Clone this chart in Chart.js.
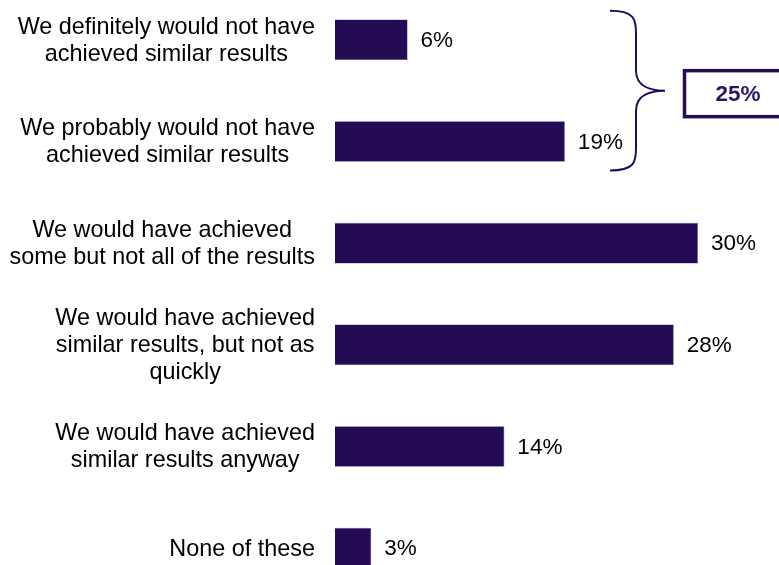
<!DOCTYPE html>
<html>
<head>
<meta charset="utf-8">
<script src="https://cdn.jsdelivr.net/npm/chart.js@4/dist/chart.umd.min.js"></script>
<style>
  html, body { margin: 0; padding: 0; background: #fff; overflow: hidden; }
  body { width: 779px; height: 565px; position: relative; }
  #wrap { position: absolute; left: 0; top: -11px; width: 779px; height: 610px; }
</style>
</head>
<body>
<div id="wrap"><canvas id="chart"></canvas></div>
<script>
const categories = [
  ['We definitely would not have', 'achieved similar results'],
  ['We probably would not have', 'achieved similar results'],
  ['We would have achieved', 'some but not all of the results'],
  ['We would have achieved', 'similar results, but not as', 'quickly'],
  ['We would have achieved', 'similar results anyway'],
  ['None of these']
];
const values = [6, 19, 30, 28, 14, 3];
const combinedLabel = '25%';   // first two answers together

const PURPLE = '#240c55';
const FONT = '"Liberation Sans", Arial, sans-serif';

const labelsPlugin = {
  id: 'labels',
  afterDraw(chart) {
    const ctx = chart.ctx;
    const y = chart.scales.y;
    const meta = chart.getDatasetMeta(0);
    ctx.save();

    // category labels: block right-aligned, lines centred inside it
    ctx.font = '23.4px ' + FONT;
    ctx.fillStyle = '#000';
    ctx.textBaseline = 'middle';
    ctx.textAlign = 'center';
    const right = 315, lh = 27;
    categories.forEach((lines, i) => {
      const cy = y.getPixelForValue(i);
      const w = Math.max(...lines.map(l => ctx.measureText(l).width));
      const cx = right - w / 2;
      const y0 = cy - (lines.length - 1) * lh / 2;
      lines.forEach((l, k) => ctx.fillText(l, cx, y0 + k * lh + 1));
    });

    // value labels at bar ends
    ctx.font = '22.5px ' + FONT;
    ctx.textAlign = 'left';
    meta.data.forEach((bar, i) => {
      ctx.fillText(values[i] + '%', bar.x + 13, bar.y + 1);
    });

    // brace over the two "would not" bars
    const b0 = meta.data[0], b1 = meta.data[1];
    const top = b0.y - 29, bot = b1.y + 29, mid = (b0.y + b1.y) / 2;
    const xl = 610, xv = 636, xt = 665;
    ctx.strokeStyle = PURPLE;
    ctx.lineWidth = 2;
    ctx.beginPath();
    ctx.moveTo(xl, top);
    ctx.bezierCurveTo(xv - 2, top, xv, top + 8, xv, top + 22);
    ctx.lineTo(xv, mid - 20);
    ctx.bezierCurveTo(xv, mid - 4, xt - 14, mid, xt, mid);
    ctx.bezierCurveTo(xt - 14, mid, xv, mid + 4, xv, mid + 20);
    ctx.lineTo(xv, bot - 22);
    ctx.bezierCurveTo(xv, bot - 8, xv - 2, bot, xl, bot);
    ctx.stroke();

    // boxed total
    ctx.lineWidth = 3.5;
    ctx.strokeRect(684.5, mid - 20, 110, 46);
    ctx.font = 'bold 22.5px ' + FONT;
    ctx.fillStyle = '#2a1464';
    ctx.textAlign = 'center';
    ctx.fillText(combinedLabel, 738, mid + 4);
    ctx.restore();
  }
};

new Chart(document.getElementById('chart'), {
  type: 'bar',
  data: {
    labels: categories,
    datasets: [{
      data: values,
      backgroundColor: PURPLE,
      borderColor: '#5a4a85',
      borderWidth: 0.6,
      barPercentage: 0.4,
      categoryPercentage: 1
    }]
  },
  options: {
    indexAxis: 'y',
    responsive: true,
    maintainAspectRatio: false,
    animation: false,
    layout: { padding: 0 },
    plugins: { legend: { display: false }, tooltip: { enabled: false } },
    scales: {
      x: { display: false, min: 0, max: 36.7 },
      y: {
        grid: { display: false },
        border: { display: false },
        ticks: { display: false },
        afterFit(scale) { scale.width = 335; }
      }
    }
  },
  plugins: [labelsPlugin]
});
</script>
</body>
</html>
